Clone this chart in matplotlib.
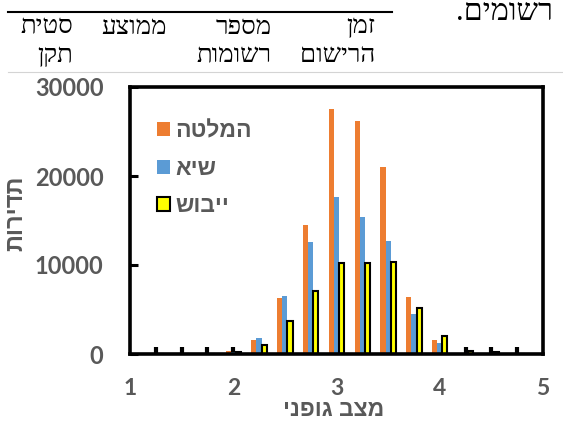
import matplotlib
matplotlib.use("Agg")
import matplotlib.pyplot as plt
from matplotlib.lines import Line2D
from matplotlib.ticker import FixedLocator

# body condition score classes and cow counts per lactation stage
categories = [1.25, 1.5, 1.75, 2.0, 2.25, 2.5, 2.75, 3.0, 3.25, 3.5, 3.75, 4.0, 4.25, 4.5, 4.75]
calving = [0, 0, 0, 350, 1580, 6300, 14450, 27500, 26150, 21000, 6350, 1580, 0, 0, 0]
peak = [0, 0, 0, 250, 1850, 6550, 12550, 17650, 15400, 12750, 4550, 1270, 0, 0, 0]
dry_off = [0, 0, 0, 250, 1050, 3750, 7050, 10200, 10250, 10350, 5150, 2050, 300, 200, 0]
series_names = ["המלטה", "שיא", "ייבוש"]
x_tick_labels = [1, 2, 3, 4, 5]
y_tick_values = [0, 10000, 20000, 30000]
x_title = "מצב גופני"
y_title = "תדירות"
caption_tail = "רשומים."
header_cells = [("סטית", "תקן"), ("ממוצע", ""), ("מספר", "רשומות"), ("זמן", "הרישום")]

W, H = 563, 432
GRAY = "#595959"
SANS = ["Liberation Sans", "DejaVu Sans"]
SERIF = ["Liberation Serif", "DejaVu Serif", "DejaVu Sans"]
NUM = ["Lato", "Liberation Sans", "DejaVu Sans"]


def visual(s):
    """Hebrew is right-to-left; matplotlib lays glyphs out left-to-right."""
    return s[::-1]


def fx(px):
    return px / W


def fy(py):
    return 1 - py / H


fig = plt.figure(figsize=(W / 100, H / 100), dpi=100)
fig.patch.set_facecolor("white")

# page text above the chart: caption end and table header
fig.text(fx(553), fy(20.5), visual(caption_tail), ha="right", va="baseline",
         family=SERIF, fontsize=22, color="black")
fig.add_artist(Line2D([fx(8), fx(392)], [fy(12.3), fy(12.3)], color="black", lw=1.5))
header_right = [73, 167, 272, 375]
for (l1, l2), xr in zip(header_cells, header_right):
    fig.text(fx(xr), fy(33.5), visual(l1), ha="right", va="baseline",
             family=SERIF, fontsize=18.5, color="black")
    if l2:
        fig.text(fx(xr), fy(62), visual(l2), ha="right", va="baseline",
                 family=SERIF, fontsize=18.5, color="black")
fig.add_artist(Line2D([fx(8), fx(563)], [fy(72), fy(72)], color="#d4d4d4", lw=0.8))

# chart
ax = fig.add_axes([fx(130), fy(354), fx(543) - fx(130), fy(87) - fy(354)])
bw = 0.05
xs = list(categories)
ax.bar([x - bw for x in xs], calving, width=bw, color="#ED7D31", label=visual(series_names[0]), zorder=2)
ax.bar(xs, peak, width=bw, color="#5B9BD5", label=visual(series_names[1]), zorder=2)
ax.bar([x + bw for x in xs], dry_off, width=bw, color="#FFFF00", edgecolor="black",
       linewidth=1.5, label=visual(series_names[2]), zorder=2.2)

ax.set_xlim(1, 5)
ax.set_ylim(0, 30000)
for sp in ax.spines.values():
    sp.set_linewidth(2.6)
    sp.set_color("black")

ax.xaxis.remove_overlapping_locs = False
ax.set_xticks(x_tick_labels)
ax.set_xticklabels([str(v) for v in x_tick_labels])
ax.xaxis.set_minor_locator(FixedLocator(categories))
ax.tick_params(axis="x", which="major", length=0, pad=17.5, labelsize=16.5, labelcolor=GRAY)
ax.tick_params(axis="x", which="minor", direction="in", length=5, width=3, color="black")
ax.set_yticks(y_tick_values)
ax.set_yticklabels([str(v) for v in y_tick_values])
ax.tick_params(axis="y", direction="in", length=6, width=2.2, pad=19, labelsize=17, labelcolor=GRAY)
for lab in ax.get_xticklabels() + ax.get_yticklabels():
    lab.set_family(NUM)
    lab.set_fontweight("bold")

fig.text(fx(334), fy(409.5), visual(x_title), ha="center", va="center",
         family=SANS, fontsize=16.5, fontweight="bold", color=GRAY)
fig.text(fx(16), fy(213), visual(y_title), ha="center", va="center", rotation=90,
         family=SANS, fontsize=17, fontweight="bold", color=GRAY)

leg = ax.legend(loc="upper left", bbox_to_anchor=(fx(157), fy(119.5)), bbox_transform=fig.transFigure,
                frameon=False, borderpad=0, borderaxespad=0, handlelength=0.55, handleheight=0.55,
                handletextpad=0.25, labelspacing=0.62,
                prop={"family": SANS, "weight": "bold", "size": 16.5})
for t in leg.get_texts():
    t.set_color(GRAY)

fig.savefig("out.png", dpi=100, facecolor="white")
